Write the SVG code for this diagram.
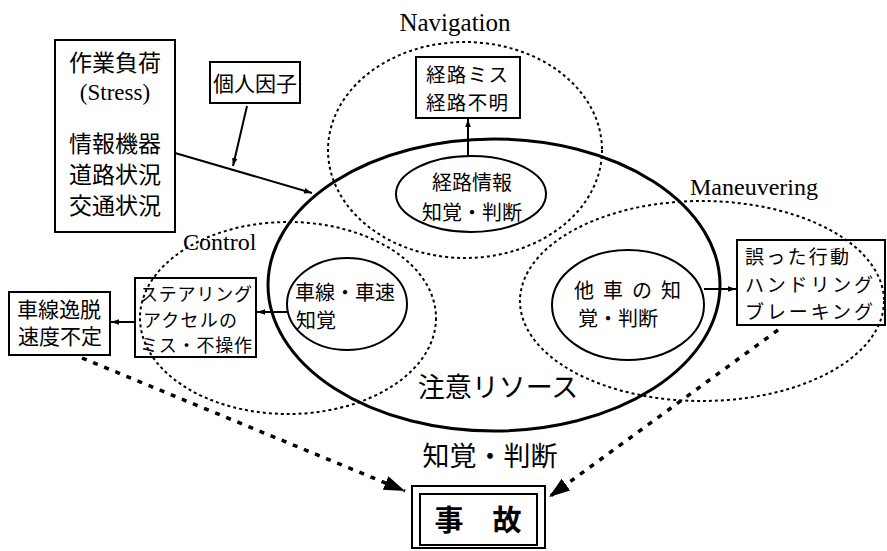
<svg xmlns="http://www.w3.org/2000/svg" width="887" height="551" viewBox="0 0 887 551">
<defs>
<style>
.s{fill:none;stroke:#000;stroke-width:2}
.b{fill:none;stroke:#000;stroke-width:3}
.d{fill:none;stroke:#000;stroke-width:2;stroke-dasharray:3 3}
.dd{fill:none;stroke:#000;stroke-width:3.5;stroke-dasharray:5 7}
.j{font-family:"Noto Sans CJK JP","Noto Sans CJK SC",sans-serif;fill:#000}
.e{font-family:"Liberation Serif",serif;fill:#000}
</style>
<marker id="a" viewBox="0 0 10 10" refX="10" refY="5" markerWidth="8" markerHeight="8" markerUnits="userSpaceOnUse" orient="auto"><path d="M0,1.5 L10,5 L0,8.5 z" fill="#000"/></marker>
<marker id="a2" viewBox="0 0 10 10" refX="10" refY="5" markerWidth="6" markerHeight="6" orient="auto"><path d="M0,1.5 L10,5 L0,8.5 z" fill="#000"/></marker>
</defs>
<rect width="887" height="551" fill="#fff"/>

<g id="regions">
<ellipse cx="465" cy="150" rx="137" ry="108" class="d"/>
<ellipse cx="288" cy="318" rx="148" ry="96" class="d"/>
<ellipse cx="702" cy="301" rx="182" ry="100" class="d"/>
<text x="455" y="31" class="e" font-size="25" text-anchor="middle">Navigation</text>
<text x="183" y="250" class="e" font-size="24">Control</text>
<text x="690" y="195" class="e" font-size="24">Maneuvering</text>
</g>

<g id="attention">
<ellipse cx="494" cy="285" rx="226" ry="146" class="b"/>
<text x="498" y="397" class="j" font-size="27" text-anchor="middle">注意リソース</text>
<text x="490" y="466" class="j" font-size="27" text-anchor="middle">知覚・判断</text>
</g>

<g id="stress">
<rect x="55" y="40" width="120" height="192" class="s"/>
<text x="115" y="71" class="j" font-size="23" text-anchor="middle">作業負荷</text>
<text x="115" y="100" class="e" font-size="23" text-anchor="middle">(Stress)</text>
<text x="115" y="152" class="j" font-size="23" text-anchor="middle">情報機器</text>
<text x="115" y="183" class="j" font-size="23" text-anchor="middle">道路状況</text>
<text x="115" y="214" class="j" font-size="23" text-anchor="middle">交通状況</text>
</g>

<g id="personal">
<rect x="210" y="62" width="90" height="41" class="s"/>
<text x="255" y="91" class="j" font-size="21" text-anchor="middle">個人因子</text>
</g>

<g id="routeerr">
<rect x="416" y="57" width="104" height="61" class="s"/>
<text x="467" y="82" class="j" font-size="19.5" text-anchor="middle" textLength="82" lengthAdjust="spacing">経路ミス</text>
<text x="467" y="110" class="j" font-size="19.5" text-anchor="middle" textLength="82" lengthAdjust="spacing">経路不明</text>
</g>

<g id="routeinfo">
<ellipse cx="471" cy="194" rx="75" ry="38" class="s"/>
<text x="472" y="190" class="j" font-size="20" text-anchor="middle">経路情報</text>
<text x="472" y="220" class="j" font-size="20" text-anchor="middle">知覚・判断</text>
</g>

<g id="lane">
<ellipse cx="347" cy="304" rx="60" ry="46" class="s"/>
<text x="345" y="300" class="j" font-size="20" text-anchor="middle">車線・車速</text>
<text x="316" y="328" class="j" font-size="20" text-anchor="middle">知覚</text>
</g>

<g id="steer">
<rect x="135" y="278" width="121" height="79" class="s"/>
<text x="196" y="301" class="j" font-size="18" text-anchor="middle" textLength="112" lengthAdjust="spacing">ステアリング</text>
<text x="190" y="327" class="j" font-size="18" text-anchor="middle" textLength="94" lengthAdjust="spacing">アクセルの</text>
<text x="196" y="352" class="j" font-size="18" text-anchor="middle" textLength="112" lengthAdjust="spacing">ミス・不操作</text>
</g>

<g id="laneout">
<rect x="9" y="292" width="101" height="63" class="s"/>
<text x="59" y="317" class="j" font-size="21" text-anchor="middle">車線逸脱</text>
<text x="60" y="344" class="j" font-size="21" text-anchor="middle">速度不定</text>
</g>

<g id="othercar">
<ellipse cx="628" cy="305" rx="76" ry="55" class="s"/>
<text x="632" y="298" class="j" font-size="20" text-anchor="middle" letter-spacing="9">他車の知</text>
<text x="578" y="326" class="j" font-size="20">覚・判断</text>
</g>

<g id="wrongact">
<rect x="737" y="240" width="148" height="85" class="s"/>
<text x="745" y="264" class="j" font-size="19" textLength="104" lengthAdjust="spacing">誤った行動</text>
<text x="745" y="292" class="j" font-size="19" textLength="128" lengthAdjust="spacing">ハンドリング</text>
<text x="745" y="319" class="j" font-size="19" textLength="128" lengthAdjust="spacing">ブレーキング</text>
</g>

<g id="accident">
<rect x="412" y="486" width="133" height="62" class="s"/>
<rect x="420" y="494" width="117" height="51" class="s"/>
<text x="478" y="531" class="j" font-size="29" font-weight="bold" text-anchor="middle">事　故</text>
</g>

<g id="connectors">
<line x1="175" y1="153" x2="312" y2="193" class="s" marker-end="url(#a)"/>
<line x1="247" y1="106" x2="233" y2="166" class="s" marker-end="url(#a)"/>
<line x1="468" y1="157" x2="468" y2="119" class="s" marker-end="url(#a)"/>
<line x1="287" y1="312" x2="257" y2="312" class="s" marker-end="url(#a)"/>
<line x1="135" y1="322" x2="111" y2="322" class="s" marker-end="url(#a)"/>
<line x1="704" y1="289" x2="736" y2="289" class="s" marker-end="url(#a)"/>
<line x1="82" y1="358" x2="405" y2="491" class="dd" marker-end="url(#a2)"/>
<line x1="778" y1="330" x2="549" y2="497" class="dd" marker-end="url(#a2)"/>
</g>
</svg>
